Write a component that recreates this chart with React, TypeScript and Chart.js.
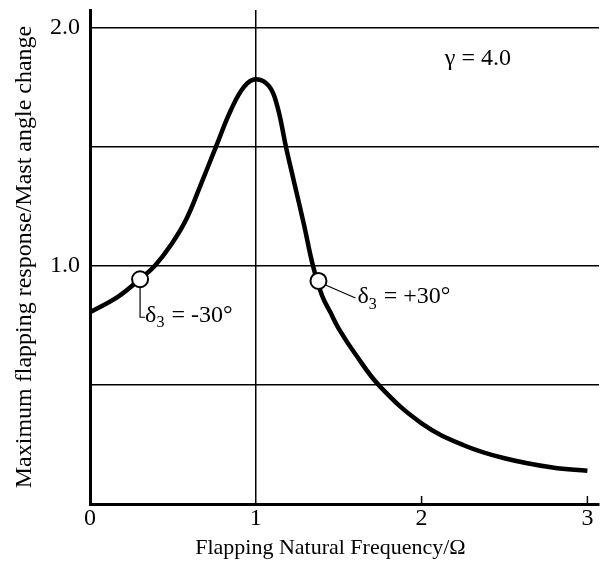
import React, { useEffect, useRef } from "react";
import { Chart, registerables } from "chart.js";

Chart.register(...registerables);

// Curve: flapping response vs. natural frequency ratio (gamma = 4.0)
const freq = [0, 0.17, 0.3, 0.39, 0.49, 0.58, 0.67, 0.76, 0.85, 0.93, 1.0, 1.08, 1.13, 1.182, 1.23, 1.29, 1.345, 1.4, 1.45, 1.5, 1.6, 1.75, 2.0, 2.25, 2.5, 2.79, 3.0];
const resp = [0.805, 0.871, 0.944, 1.0, 1.09, 1.195, 1.345, 1.501, 1.655, 1.753, 1.784, 1.755, 1.67, 1.5, 1.355, 1.175, 1.0, 0.875, 0.805, 0.737, 0.63, 0.493, 0.339, 0.248, 0.192, 0.153, 0.14];

// delta3 marker points
const markerFreq = [0.302, 1.378];
const markerResp = [0.944, 0.937];
const markerLabels = ["-30°", "+30°"];

const xTicks = [0, 1, 2, 3];
const yTicks = [0, 0.5, 1, 1.5, 2];
const yLabelled = [1, 2];

const xTitle = "Flapping Natural Frequency/Ω";
const yTitle = "Maximum flapping response/Mast angle change";
const gammaText = "γ = 4.0";

const SERIF = "'Liberation Serif', 'Times New Roman', serif";

const annotationPlugin = {
  id: "annot",
  afterDraw(chart: any) {
    const ctx = chart.ctx;
    const xs = chart.scales.x;
    const ys = chart.scales.y;
    const area = chart.chartArea;
    ctx.save();
    ctx.fillStyle = "#000";
    ctx.strokeStyle = "#000";

    // small inward tick marks at 2 and 3
    ctx.lineWidth = 1.5;
    [2, 3].forEach((v) => {
      const px = xs.getPixelForValue(v);
      ctx.beginPath();
      ctx.moveTo(px, area.bottom);
      ctx.lineTo(px, area.bottom - 8);
      ctx.stroke();
    });

    // gamma label
    ctx.font = `24px ${SERIF}`;
    ctx.textBaseline = "middle";
    ctx.textAlign = "left";
    ctx.fillText(gammaText, xs.getPixelForValue(2.14), ys.getPixelForValue(1.87));

    const drawDelta = (x: number, y: number, val: string) => {
      ctx.textBaseline = "middle";
      ctx.textAlign = "left";
      ctx.font = `24px ${SERIF}`;
      ctx.fillText("δ", x, y);
      let w = ctx.measureText("δ").width;
      ctx.font = `16px ${SERIF}`;
      ctx.fillText("3", x + w, y + 8);
      w += ctx.measureText("3").width;
      ctx.font = `24px ${SERIF}`;
      ctx.fillText(" = " + val, x + w + 1, y);
    };

    // left marker leader
    const lx = xs.getPixelForValue(markerFreq[0]);
    const ly = ys.getPixelForValue(markerResp[0]);
    ctx.lineWidth = 1.2;
    ctx.beginPath();
    ctx.moveTo(lx, ly + 8);
    ctx.lineTo(lx, ly + 38);
    ctx.lineTo(lx + 5, ly + 38);
    ctx.stroke();
    drawDelta(lx + 5, ly + 36, markerLabels[0]);

    // right marker leader
    const rx = xs.getPixelForValue(markerFreq[1]);
    const ry = ys.getPixelForValue(markerResp[1]);
    ctx.beginPath();
    ctx.moveTo(rx + 7, ry + 4);
    ctx.lineTo(rx + 37, ry + 17);
    ctx.stroke();
    drawDelta(rx + 39, ry + 16, markerLabels[1]);

    // x axis title
    ctx.font = `22px ${SERIF}`;
    ctx.textAlign = "center";
    ctx.textBaseline = "middle";
    ctx.fillText(xTitle, xs.getPixelForValue(1.45), 548);

    ctx.restore();
  },
};

export default function App() {
  const ref = useRef<HTMLCanvasElement>(null);
  useEffect(() => {
    if (!ref.current) return;
    const chart = new Chart(ref.current, {
      type: "line",
      data: {
        datasets: [
          {
            label: "markers",
            data: markerFreq.map((x, i) => ({ x, y: markerResp[i] })),
            showLine: false,
            pointRadius: 8,
            pointBackgroundColor: "#fff",
            pointBorderColor: "#000",
            pointBorderWidth: 2,
            order: 0,
          },
          {
            label: "response",
            data: freq.map((x, i) => ({ x, y: resp[i] })),
            borderColor: "#000",
            borderWidth: 4.5,
            pointRadius: 0,
            tension: 0.4,
            fill: false,
            order: 1,
          },
        ],
      },
      options: {
        animation: false,
        responsive: false,
        layout: { padding: { top: 10, right: 1, left: 0, bottom: 0 } },
        plugins: { legend: { display: false }, tooltip: { enabled: false } },
        scales: {
          x: {
            type: "linear",
            min: 0,
            max: 3.07,
            afterBuildTicks: (s: any) => {
              s.ticks = xTicks.map((v) => ({ value: v }));
            },
            afterFit: (s: any) => {
              s.height = 70;
              s.paddingLeft = 0;
              s.paddingRight = 0;
            },
            ticks: {
              color: "#000",
              font: { family: SERIF, size: 24 },
              padding: 0,
              maxRotation: 0,
              callback: (v: any) => String(v),
            },
            grid: {
              drawTicks: false,
              color: (c: any) => (c.tick && c.tick.value === 1 ? "#000" : "rgba(0,0,0,0)"),
              lineWidth: 1.5,
            },
            border: { color: "#000", width: 3 },
          },
          y: {
            type: "linear",
            min: 0,
            max: 2.075,
            afterBuildTicks: (s: any) => {
              s.ticks = yTicks.map((v) => ({ value: v }));
            },
            afterFit: (s: any) => {
              s.width = 90;
              s.paddingTop = 0;
              s.paddingBottom = 0;
            },
            ticks: {
              color: "#000",
              font: { family: SERIF, size: 24 },
              padding: 10,
              callback: (v: any) => (yLabelled.includes(v) ? Number(v).toFixed(1) : ""),
            },
            grid: {
              drawTicks: false,
              color: (c: any) => (c.tick && c.tick.value > 0 ? "#000" : "rgba(0,0,0,0)"),
              lineWidth: 1.5,
            },
            border: { color: "#000", width: 3 },
            title: {
              display: true,
              text: yTitle,
              color: "#000",
              font: { family: SERIF, size: 24 },
              padding: { top: 10, bottom: 0 },
            },
          },
        },
      },
      plugins: [annotationPlugin],
    });
    return () => chart.destroy();
  }, []);
  return (
    <div style={{ position: "absolute", left: 0, top: 0, width: 609, height: 574, background: "#fff" }}>
      <canvas ref={ref} width={609} height={574} />
    </div>
  );
}
